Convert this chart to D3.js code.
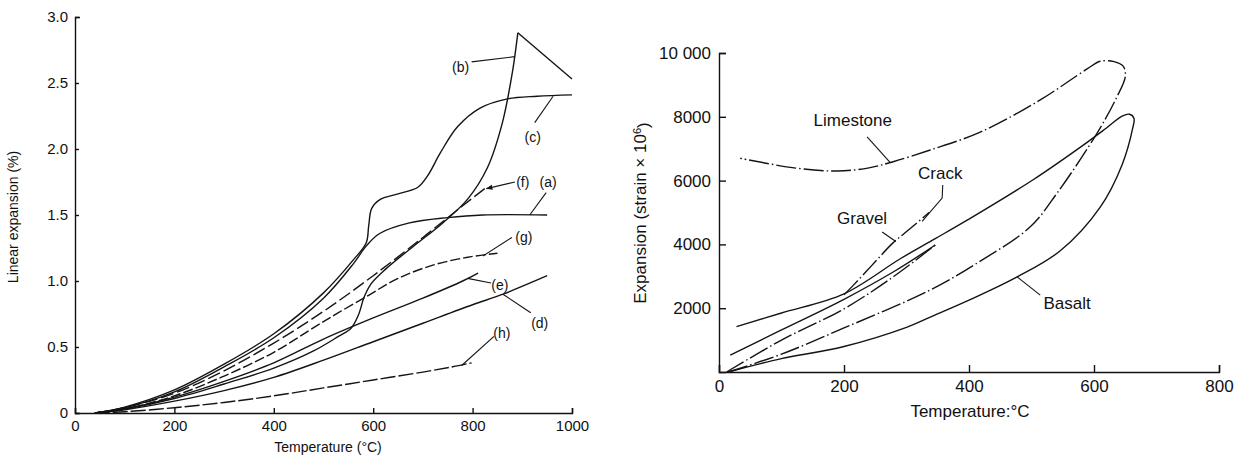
<!DOCTYPE html>
<html>
<head>
<meta charset="utf-8">
<script src="https://cdn.jsdelivr.net/npm/d3@7"></script>
<style>
  body { margin: 0; background: #fff; }
  svg { display: block; font-family: "Liberation Sans", Arial, sans-serif; }
  .axis path, .axis line { stroke: #111; stroke-width: 1.4; }
  .axis text { fill: #111; font-family: "Liberation Sans", Arial, sans-serif; }
  .left text { font-size: 15px; }
  .right text { font-size: 17px; }
  .curve { fill: none; stroke: #141414; stroke-width: 1.4; }
  .leader { fill: none; stroke: #141414; stroke-width: 1.1; }
  .lbl { fill: #111; }
</style>
</head>
<body>
<div id="chart"></div>
<script>
// ---- left panel: linear expansion (%) vs temperature (°C)
const leftXTicks = [0, 200, 400, 600, 800, 1000];
const leftYTicks = [0, 0.5, 1.0, 1.5, 2.0, 2.5, 3.0];
const leftYLabels = ["0", "0.5", "1.0", "1.5", "2.0", "2.5", "3.0"];

const curveA = [[40,0],[100,0.04],[200,0.16],[300,0.35],[400,0.57],[500,0.87],[560,1.13],[587,1.27],[613,1.36],[673,1.44],[750,1.48],[820,1.5],[950,1.5]];
const curveB = [[40,0],[100,0.03],[200,0.11],[300,0.22],[400,0.34],[480,0.47],[530,0.58],[555,0.64],[570,0.74],[582,0.88],[596,0.98],[625,1.09],[680,1.26],[740,1.44],[790,1.62],[830,1.86],[860,2.2],[880,2.58],[891,2.88]];
const curveBFall = [[891,2.88],[1000,2.53]];
const curveC = [[40,0],[100,0.045],[200,0.175],[300,0.37],[400,0.6],[500,0.91],[560,1.16],[586,1.29],[591,1.42],[597,1.55],[615,1.62],[650,1.66],[690,1.71],[710,1.8],[735,1.97],[770,2.17],[815,2.31],[870,2.38],[930,2.4],[1000,2.41]];
const curveD = [[40,0],[100,0.025],[200,0.09],[300,0.17],[400,0.27],[500,0.4],[600,0.54],[700,0.68],[800,0.82],[861,0.9],[950,1.04]];
const curveE = [[40,0],[100,0.03],[200,0.12],[300,0.24],[400,0.38],[500,0.56],[600,0.72],[700,0.87],[780,1.0],[811,1.06]];
const curveF = [[40,0],[100,0.04],[200,0.15],[300,0.32],[400,0.53],[500,0.77],[600,1.04],[700,1.33],[780,1.57],[828,1.71]];
const curveG = [[40,0],[100,0.03],[200,0.13],[300,0.28],[400,0.46],[490,0.67],[530,0.76],[590,0.89],[650,1.02],[720,1.12],[790,1.18],[850,1.21]];
const curveH = [[40,0],[100,0.01],[200,0.04],[300,0.08],[400,0.13],[500,0.19],[600,0.25],[700,0.31],[760,0.35],[798,0.38]];

// ---- right panel: expansion (strain x 10^6) vs temperature, heating + cooling loops
const rightXTicks = [0, 200, 400, 600, 800];
const rightYTicks = [2000, 4000, 6000, 8000, 10000];
const rightYLabels = ["2000", "4000", "6000", "8000", "10 000"];

const limestone = [[15,0],[100,560],[200,1380],[338,2570],[420,3500],[498,4550],[541,5610],[605,7490],[636,8600],[650,9250],[647,9580],[632,9730],[610,9740],[589,9500],[514,8530],[418,7520],[338,6960],[280,6600],[240,6400],[189,6300],[120,6400],[34,6700]];
const basalt = [[15,0],[60,230],[100,420],[200,800],[300,1400],[338,1720],[400,2250],[477,2980],[546,3800],[610,5170],[645,6500],[662,7650],[664,7950],[657,8080],[645,8020],[620,7650],[589,7200],[502,6020],[397,4760],[346,4180],[290,3550],[200,2450],[100,1850],[28,1420]];
const gravelHeat = [[12,0],[100,1000],[200,1980],[280,3000],[346,3980]];
const gravelCool = [[346,3980],[280,3150],[200,2280],[100,1320],[18,530]];
const crack = [[200,2420],[214,2700],[245,3350],[278,4040],[305,4480],[336,5000]];

const leftDash = {f: "13,4", g: "10,3", h: "15,3"};
const dashDot = "20,3,1.5,3";

const svg = d3.select("#chart")
              .append("svg")
              .attr("width", 1245)
              .attr("height", 457);

svg.append("rect").attr("width", 1245).attr("height", 457).attr("fill", "#fff");

svg.append("defs").append("marker")
   .attr("id", "arrow")
   .attr("viewBox", "0 0 10 10")
   .attr("refX", 9).attr("refY", 5)
   .attr("markerWidth", 6).attr("markerHeight", 6)
   .attr("orient", "auto")
   .append("path")
   .attr("d", "M0,1L10,5L0,9z")
   .attr("fill", "#141414");

// scales
const xL = d3.scaleLinear().domain([0, 1000]).range([75, 572]);
const yL = d3.scaleLinear().domain([0, 3]).range([413, 17]);
const xR = d3.scaleLinear().domain([0, 800]).range([719, 1219]);
const yR = d3.scaleLinear().domain([0, 10000]).range([372, 53]);

// axes, ticks point inwards
svg.append("g")
   .attr("class", "axis left")
   .attr("transform", "translate(0," + yL(0) + ")")
   .call(d3.axisBottom(xL).tickValues(leftXTicks).tickSizeInner(-5).tickSizeOuter(-5).tickPadding(7).tickFormat(d3.format("d")));

svg.append("g")
   .attr("class", "axis left")
   .attr("transform", "translate(" + xL(0) + ",0)")
   .call(d3.axisLeft(yL).tickValues(leftYTicks).tickSizeInner(-4).tickSizeOuter(-5).tickPadding(7)
           .tickFormat(function(d, i) { return leftYLabels[i]; }));

svg.append("g")
   .attr("class", "axis right")
   .attr("transform", "translate(0," + yR(0) + ")")
   .call(d3.axisBottom(xR).tickValues(rightXTicks).tickSizeInner(-7).tickSizeOuter(-7).tickPadding(8).tickFormat(d3.format("d")));

svg.append("g")
   .attr("class", "axis right")
   .attr("transform", "translate(" + xR(0) + ",0)")
   .call(d3.axisLeft(yR).tickValues(rightYTicks).tickSizeInner(-7).tickSizeOuter(-7).tickPadding(8)
           .tickFormat(function(d, i) { return rightYLabels[i]; }));

// axis titles
svg.append("text")
   .attr("class", "lbl")
   .attr("transform", "translate(18,217) rotate(-90)")
   .attr("text-anchor", "middle")
   .attr("font-size", 14)
   .text("Linear expansion (%)");

svg.append("text")
   .attr("class", "lbl")
   .attr("x", 328).attr("y", 452)
   .attr("text-anchor", "middle")
   .attr("font-size", 14)
   .text("Temperature (°C)");

const rTitle = svg.append("text")
   .attr("class", "lbl")
   .attr("transform", "translate(646,213) rotate(-90)")
   .attr("text-anchor", "middle")
   .attr("font-size", 17);
rTitle.append("tspan").text("Expansion (strain × 10");
rTitle.append("tspan").attr("dy", "-0.45em").attr("font-size", 11).text("6");
rTitle.append("tspan").attr("dy", "0.45em").text(")");

svg.append("text")
   .attr("class", "lbl")
   .attr("x", 970).attr("y", 417)
   .attr("text-anchor", "middle")
   .attr("font-size", 17)
   .text("Temperature:°C");

// curves
const lineL = d3.line()
                .x(function(d) { return xL(d[0]); })
                .y(function(d) { return yL(d[1]); })
                .curve(d3.curveCatmullRom.alpha(0.5));

const lineR = d3.line()
                .x(function(d) { return xR(d[0]); })
                .y(function(d) { return yR(d[1]); })
                .curve(d3.curveCatmullRom.alpha(0.5));

const leftSeries = [
    {key: "a", pts: curveA},
    {key: "b", pts: curveB},
    {key: "b2", pts: curveBFall, linear: true},
    {key: "c", pts: curveC},
    {key: "d", pts: curveD},
    {key: "e", pts: curveE},
    {key: "f", pts: curveF},
    {key: "g", pts: curveG},
    {key: "h", pts: curveH}
];

svg.append("g").selectAll("path")
   .data(leftSeries)
   .enter()
   .append("path")
   .attr("class", "curve")
   .attr("d", function(d) {
       return d.linear ? lineL.curve(d3.curveLinear)(d.pts) : lineL.curve(d3.curveCatmullRom.alpha(0.5))(d.pts);
   })
   .attr("stroke-dasharray", function(d) { return leftDash[d.key] || null; });

const rightSeries = [
    {key: "limestone", pts: limestone, dash: dashDot},
    {key: "basalt", pts: basalt, dash: null},
    {key: "gravelHeat", pts: gravelHeat, dash: dashDot},
    {key: "gravelCool", pts: gravelCool, dash: null},
    {key: "crack", pts: crack, dash: dashDot}
];

svg.append("g").selectAll("path")
   .data(rightSeries)
   .enter()
   .append("path")
   .attr("class", "curve")
   .attr("d", function(d) { return lineR(d.pts); })
   .attr("stroke-dasharray", function(d) { return d.dash; });

// curve labels with leader lines (data coordinates)
const leftNotes = [
    {text: "(b)", at: [776, 2.62], leader: [[798, 2.66], [885, 2.70]]},
    {text: "(c)", at: [921, 2.09], leader: [[925, 2.20], [962, 2.40]]},
    {text: "(f)", at: [901, 1.75], leader: [[885, 1.75], [828, 1.70]], arrow: true},
    {text: "(a)", at: [952, 1.75], leader: [[948, 1.67], [915, 1.50]]},
    {text: "(g)", at: [903, 1.33], leader: [[879, 1.33], [821, 1.19]]},
    {text: "(e)", at: [855, 0.97], leader: [[837, 0.985], [790, 1.02]]},
    {text: "(d)", at: [935, 0.68], leader: [[917, 0.76], [861, 0.9]]},
    {text: "(h)", at: [859, 0.61], leader: [[843, 0.58], [778, 0.36]]}
];

const rightNotes = [
    {text: "Limestone", at: [214, 7900], leader: [[237, 7370], [274, 6560]]},
    {text: "Crack", at: [354, 6240], leader: [[358, 5860], [357, 5450], [325, 4720]]},
    {text: "Gravel", at: [229, 4830], leader: [[261, 4390], [283, 4090]]},
    {text: "Basalt", at: [557, 2160], leader: [[514, 2410], [477, 2980]]}
];

const straight = d3.line();

svg.append("g").selectAll("path")
   .data(leftNotes)
   .enter()
   .append("path")
   .attr("class", "leader")
   .attr("d", function(d) {
       return straight(d.leader.map(function(p) { return [xL(p[0]), yL(p[1])]; }));
   })
   .attr("marker-end", function(d) { return d.arrow ? "url(#arrow)" : null; });

svg.append("g").selectAll("text")
   .data(leftNotes)
   .enter()
   .append("text")
   .attr("class", "lbl")
   .attr("x", function(d) { return xL(d.at[0]); })
   .attr("y", function(d) { return yL(d.at[1]); })
   .attr("dy", "0.36em")
   .attr("text-anchor", "middle")
   .attr("font-size", 14)
   .text(function(d) { return d.text; });

svg.append("g").selectAll("path")
   .data(rightNotes)
   .enter()
   .append("path")
   .attr("class", "leader")
   .attr("d", function(d) {
       return straight(d.leader.map(function(p) { return [xR(p[0]), yR(p[1])]; }));
   });

svg.append("g").selectAll("text")
   .data(rightNotes)
   .enter()
   .append("text")
   .attr("class", "lbl")
   .attr("x", function(d) { return xR(d.at[0]); })
   .attr("y", function(d) { return yR(d.at[1]); })
   .attr("dy", "0.36em")
   .attr("text-anchor", "middle")
   .attr("font-size", 17)
   .text(function(d) { return d.text; });
</script>
</body>
</html>
